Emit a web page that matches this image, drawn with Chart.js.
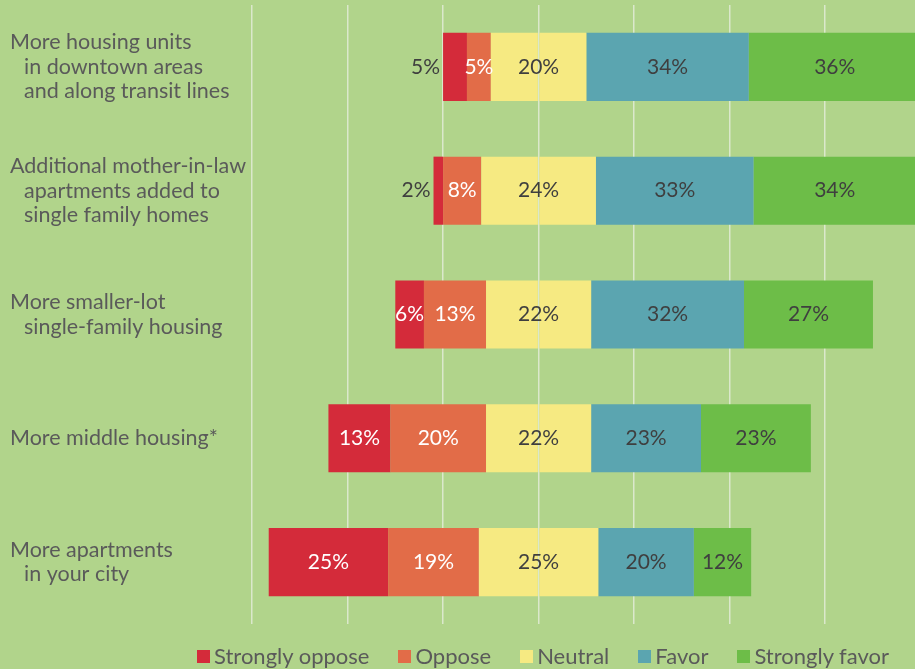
<!DOCTYPE html>
<html>
<head>
<meta charset="utf-8">
<script src="https://cdn.jsdelivr.net/npm/chart.js@4.4.1/dist/chart.umd.min.js"></script>
<style>
    html, body { margin: 0; padding: 0; background: #b1d48b; overflow: hidden; }
    #wrap { position: relative; width: 915px; height: 669px; overflow: hidden; }
    #legend {
        position: absolute; left: 197px; top: 643px;
        display: flex; align-items: center; white-space: nowrap; width: max-content;
        font-family: Lato, sans-serif; font-size: 22px; line-height: 26px; color: #5a5a5a;
    }
    #legend .item { display: flex; align-items: center; margin-right: 29px; }
    #legend .box { width: 13px; height: 13px; margin-right: 4px; flex: none; }
</style>
</head>
<body>
<div id="wrap">
    <canvas id="chart" width="915" height="669"></canvas>
    <div id="legend"></div>
</div>
<script>
// Survey data (percent of respondents)
const categories = [
    ['More housing units', 'in downtown areas', 'and along transit lines'],
    ['Additional mother-in-law', 'apartments added to', 'single family homes'],
    ['More smaller-lot', 'single-family housing'],
    ['More middle housing*'],
    ['More apartments', 'in your city']
];
const stronglyOppose = [5, 2, 6, 13, 25];
const oppose = [5, 8, 13, 20, 19];
const neutral = [20, 24, 22, 22, 25];
const favor = [34, 33, 32, 23, 20];
const stronglyFavor = [36, 34, 27, 23, 12];
const seriesNames = ['Strongly oppose', 'Oppose', 'Neutral', 'Favor', 'Strongly favor'];
const gridTicks = [-60, -40, -20, 0, 20, 40, 60];

const colors = {
    sOppose: '#d42b3a',
    oppose: '#e26c48',
    neutral: '#f6ea82',
    favor: '#5ba5b0',
    sFavor: '#6dbd48'
};
const catFont = '21.5px Lato, sans-serif';
const valueFont = '21px Lato, sans-serif';
const darkText = '#3f3f3f';

// neutral is split in half around zero
const neutralLow = neutral.map(v => -v / 2);
const neutralHigh = neutral.map(v => v / 2);

function bar(label, data, color, raw, key) {
    return {
        label: label,
        data: data,
        raw: raw,
        key: key,
        backgroundColor: color,
        borderWidth: 0,
        stack: 's',
        barPercentage: 0.55,
        categoryPercentage: 1
    };
}

// Draw category labels on the left and value labels on the bars
const labelPlugin = {
    id: 'labels',
    afterDatasetsDraw(chart) {
        const ctx = chart.ctx;
        const yScale = chart.scales.y;
        const xScale = chart.scales.x;
        ctx.save();

        // category labels
        ctx.font = catFont;
        ctx.fillStyle = '#5a5a5a';
        ctx.textBaseline = 'middle';
        ctx.textAlign = 'left';
        categories.forEach((lines, i) => {
            const yc = yScale.getPixelForValue(i);
            const lh = 24.5;
            const y0 = yc - (lines.length - 1) * lh / 2;
            lines.forEach((line, j) => {
                ctx.fillText(line, j === 0 ? 10 : 24, y0 + j * lh);
            });
        });

        // value labels
        ctx.font = valueFont;
        chart.data.datasets.forEach((ds, di) => {
            if (ds.key === 'neutralHigh') return;
            const meta = chart.getDatasetMeta(di);
            meta.data.forEach((el, i) => {
                const value = ds.raw[i];
                let x = (el.x + el.base) / 2;
                let color = darkText;
                let align = 'center';
                if (ds.key === 'neutralLow') {
                    x = xScale.getPixelForValue(0);
                } else if (ds.key === 'sOppose' || ds.key === 'oppose') {
                    color = '#ffffff';
                    if (ds.key === 'sOppose' && value < 6) {
                        x = Math.min(el.x, el.base) - 3;
                        color = darkText;
                        align = 'right';
                    }
                }
                ctx.fillStyle = color;
                ctx.textAlign = align;
                ctx.fillText(value + '%', x, el.y);
            });
        });
        ctx.restore();
    }
};

new Chart(document.getElementById('chart'), {
    type: 'bar',
    data: {
        labels: categories.map(c => c.join(' ')),
        datasets: [
            bar('Neutral', neutralLow, colors.neutral, neutral, 'neutralLow'),
            bar('Neutral', neutralHigh, colors.neutral, neutral, 'neutralHigh'),
            bar('Oppose', oppose.map(v => -v), colors.oppose, oppose, 'oppose'),
            bar('Favor', favor, colors.favor, favor, 'favor'),
            bar('Strongly oppose', stronglyOppose.map(v => -v), colors.sOppose, stronglyOppose, 'sOppose'),
            bar('Strongly favor', stronglyFavor, colors.sFavor, stronglyFavor, 'sFavor')
        ]
    },
    options: {
        indexAxis: 'y',
        responsive: false,
        animation: false,
        layout: { padding: { top: 5, bottom: 45, left: 0, right: 0 } },
        scales: {
            x: {
                stacked: true,
                min: -60,
                max: 78.8,
                afterBuildTicks: scale => { scale.ticks = gridTicks.map(v => ({ value: v })); },
                ticks: { display: false },
                grid: { color: '#dbe8cc', lineWidth: 1.5, drawTicks: false },
                border: { display: false }
            },
            y: {
                stacked: true,
                ticks: { display: false },
                grid: { display: false },
                border: { display: false },
                afterFit: scale => { scale.width = 252; }
            }
        },
        plugins: {
            legend: { display: false },
            tooltip: { enabled: false }
        }
    },
    plugins: [labelPlugin]
});

// HTML legend
const legendColors = [colors.sOppose, colors.oppose, colors.neutral, colors.favor, colors.sFavor];
const legend = document.getElementById('legend');
seriesNames.forEach((name, i) => {
    const item = document.createElement('div');
    item.className = 'item';
    item.innerHTML = '<span class="box" style="background:' + legendColors[i] + '"></span><span>' + name + '</span>';
    legend.appendChild(item);
});
</script>
</body>
</html>
